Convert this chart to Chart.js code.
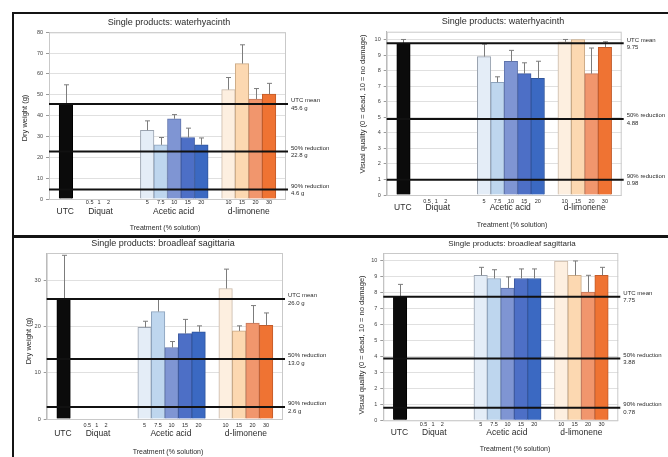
<!DOCTYPE html>
<html>
<head>
<meta charset="utf-8">
<script src="https://cdn.jsdelivr.net/npm/chart.js@4.4.1/dist/chart.umd.min.js"></script>
<style>
  html, body { margin: 0; padding: 0; background: #fff; }
  #sheet { position: relative; width: 668px; height: 457px; overflow: hidden; background: #fff; }
  #sheet canvas { position: absolute; left: 0; top: 0; }
  .rule { position: absolute; background: #141414; }
</style>
</head>
<body>
<div id="sheet">
  <canvas id="c1" width="668" height="457"></canvas>
  <canvas id="c2" width="668" height="457"></canvas>
  <canvas id="c3" width="668" height="457"></canvas>
  <canvas id="c4" width="668" height="457"></canvas>
  <div class="rule" style="left:12px;top:12px;width:656px;height:2px"></div>
  <div class="rule" style="left:12px;top:12px;width:2px;height:445px"></div>
  <div class="rule" style="left:12px;top:235px;width:656px;height:3px"></div>
</div>
<script>
// ---- treatments ----
const groupNames = ['UTC', 'Diquat', 'Acetic acid', 'd-limonene'];
const diquatRates = ['0.5', '1', '2'];
const aceticRates = ['5', '7.5', '10', '15', '20'];
const limoneneRates = ['10', '15', '20', '30'];
const refNames = ['UTC mean', '50% reduction', '90% reduction'];

// ---- waterhyacinth: dry weight (g); order UTC, acetic x5, d-limonene x4 ----
const whDry = [45.6, 33, 26, 38.5, 29.5, 26, 52.5, 65, 48, 50.3];
const whDryErr = [9.2, 4.5, 3.5, 2, 4.5, 3.3, 5.8, 9, 5, 5.2];
const whDryRef = [45.6, 22.8, 4.6];

// ---- waterhyacinth: visual quality (0-10) ----
const whVis = [9.75, 8.9, 7.25, 8.6, 7.8, 7.5, 9.85, 10, 7.8, 9.5];
const whVisErr = [0.25, 0.8, 0.35, 0.7, 0.7, 1.1, 0.15, 0, 1.65, 0.35];
const whVisRef = [9.75, 4.88, 0.98];

// ---- broadleaf sagittaria: dry weight (g) ----
const bsDry = [26.0, 19.9, 23.3, 15.5, 18.5, 18.9, 28.3, 19.1, 20.8, 20.3];
const bsDryErr = [9.5, 1.3, 2.7, 1.3, 3.1, 1.3, 4.2, 1.1, 3.8, 2.7];
const bsDryRef = [26.0, 13.0, 2.6];

// ---- broadleaf sagittaria: visual quality (0-10) ----
const bsVis = [7.75, 9.1, 8.9, 8.3, 8.9, 8.9, 10, 9.1, 8.05, 9.1];
const bsVisErr = [0.78, 0.5, 0.55, 0.7, 0.6, 0.6, 0, 0.9, 1.05, 0.5];
const bsVisRef = [7.75, 3.88, 0.78];

// ---- x layout in bar-width units ----
const SLOT_MAX = 17.5;
const barSlots = [1.25, 7.25, 8.25, 9.25, 10.25, 11.25, 13.25, 14.25, 15.25, 16.25];
const diquatSlots = [3.0, 3.7, 4.4];
const groupSlots = [1.2, 3.8, 9.2, 14.75];

const barFill = ['#0b0b0b',
  '#e4edf7', '#bed6ee', '#7f95d3', '#4d6fc6', '#3b69c2',
  '#fdefe0', '#fcd8b1', '#f1966d', '#ef7333'];
const barEdge = ['#000',
  '#9aa3b0', '#8da3bd', '#5f73ab', '#3d59a0', '#2f559c',
  '#c9b8a8', '#c9a884', '#c4765a', '#c25b2a'];

const FONT = '"Liberation Sans", Arial, sans-serif';
const INK = '#2b2b2b';

const panels = [
  { id: 'c1', area: { l: 49, r: 286, t: 32.3, b: 199 }, yMax: 80, yStep: 10,
    title: 'Single products: waterhyacinth', titleAt: [169, 23], titleSize: 9,
    yTitle: 'Dry weight (g)', yTitleAt: [25, 118],
    subY: 202.5, groupY: 212, xTitleAt: [165, 228],
    values: whDry, errors: whDryErr, refs: whDryRef, fmt: v => v.toFixed(1) + ' g' },
  { id: 'c2', area: { l: 386.7, r: 621.7, t: 31.7, b: 195 }, yMax: 10.5, yStep: 1,
    title: 'Single products: waterhyacinth', titleAt: [503, 21.5], titleSize: 9,
    yTitle: 'Visual quality (0 = dead, 10 = no damage)', yTitleAt: [363, 104],
    subY: 201.5, groupY: 207.5, xTitleAt: [512, 225],
    values: whVis, errors: whVisErr, refs: whVisRef, fmt: v => v.toFixed(2) },
  { id: 'c3', area: { l: 46.7, r: 283, t: 253, b: 419 }, yMax: 36, yStep: 10,
    title: 'Single products: broadleaf sagittaria', titleAt: [163, 243.5], titleSize: 9,
    yTitle: 'Dry weight (g)', yTitleAt: [29, 341],
    subY: 425.5, groupY: 434, xTitleAt: [168, 452],
    values: bsDry, errors: bsDryErr, refs: bsDryRef, fmt: v => v.toFixed(1) + ' g' },
  { id: 'c4', area: { l: 383.3, r: 618.3, t: 253, b: 420.3 }, yMax: 10.5, yStep: 1,
    title: 'Single products: broadleaf sagittaria', titleAt: [512, 244], titleSize: 8,
    yTitle: 'Visual quality (0 = dead, 10 = no damage)', yTitleAt: [361.7, 345],
    subY: 424.7, groupY: 433, xTitleAt: [515, 449],
    values: bsVis, errors: bsVisErr, refs: bsVisRef, fmt: v => v.toFixed(2) }
];

const AXW = 20;

function text(ctx, str, x, y, size, align) {
  ctx.font = size + 'px ' + FONT;
  ctx.fillStyle = INK;
  ctx.textAlign = align || 'center';
  ctx.textBaseline = 'middle';
  ctx.fillText(str, x, y);
}

function decorations(p) {
  return {
    id: 'decor_' + p.id,
    beforeDatasetsDraw(chart) {
      const { ctx, chartArea: a } = chart;
      ctx.save();
      ctx.strokeStyle = '#c9c9c9';
      ctx.lineWidth = 1;
      ctx.strokeRect(a.left + 0.5, a.top + 0.5, a.right - a.left - 1, a.bottom - a.top);
      ctx.restore();
    },
    afterDatasetsDraw(chart) {
      const { ctx, chartArea: a } = chart;
      const yS = chart.scales.y;
      const meta = chart.getDatasetMeta(0);
      ctx.save();
      // error bars
      ctx.strokeStyle = '#7c7c7c';
      ctx.lineWidth = 1;
      meta.data.forEach((bar, i) => {
        const e = p.errors[i];
        if (!e) return;
        const yTop = yS.getPixelForValue(p.values[i] + e);
        const x = Math.round(bar.x) + 0.5;
        ctx.beginPath();
        ctx.moveTo(x, bar.y);
        ctx.lineTo(x, yTop);
        ctx.moveTo(x - 2.5, yTop);
        ctx.lineTo(x + 2.5, yTop);
        ctx.stroke();
      });
      // reference lines and their labels
      p.refs.forEach((v, i) => {
        const y = yS.getPixelForValue(v);
        ctx.strokeStyle = '#111';
        ctx.lineWidth = 2;
        ctx.beginPath();
        ctx.moveTo(a.left, y);
        ctx.lineTo(a.right + 2, y);
        ctx.stroke();
        text(ctx, refNames[i], a.right + 5, y - 3.5, 6, 'left');
        text(ctx, p.fmt(v), a.right + 5, y + 4, 6, 'left');
      });
      ctx.restore();
    },
    afterDraw(chart) {
      const { ctx } = chart;
      const xS = chart.scales.x;
      ctx.save();
      text(ctx, p.title, p.titleAt[0], p.titleAt[1], p.titleSize);
      // rotated axis title
      ctx.save();
      ctx.translate(p.yTitleAt[0], p.yTitleAt[1]);
      ctx.rotate(-Math.PI / 2);
      text(ctx, p.yTitle, 0, 0, 7.5);
      ctx.restore();
      // rate labels
      diquatRates.forEach((r, i) => text(ctx, r, xS.getPixelForValue(diquatSlots[i]), p.subY, 5.5));
      aceticRates.forEach((r, i) => text(ctx, r, xS.getPixelForValue(barSlots[1 + i]), p.subY, 5.5));
      limoneneRates.forEach((r, i) => text(ctx, r, xS.getPixelForValue(barSlots[6 + i]), p.subY, 5.5));
      // group labels
      groupNames.forEach((g, i) => text(ctx, g, xS.getPixelForValue(groupSlots[i]), p.groupY, 8.5));
      text(ctx, 'Treatment (% solution)', p.xTitleAt[0], p.xTitleAt[1], 7);
      ctx.restore();
    }
  };
}

panels.forEach(p => {
  const canvas = document.getElementById(p.id);
  new Chart(canvas, {
    type: 'bar',
    data: {
      datasets: [{
        data: p.values.map((v, i) => ({ x: barSlots[i], y: v })),
        backgroundColor: barFill,
        borderColor: barEdge,
        borderWidth: 1,
        barPercentage: 1,
        categoryPercentage: 1
      }]
    },
    options: {
      responsive: false,
      animation: false,
      events: [],
      layout: {
        padding: { left: p.area.l - AXW, right: 668 - p.area.r, top: p.area.t, bottom: 457 - p.area.b }
      },
      plugins: { legend: { display: false }, tooltip: { enabled: false }, title: { display: false } },
      scales: {
        x: {
          type: 'linear', min: 0, max: SLOT_MAX, offset: false, display: false,
          afterBuildTicks: s => { s.ticks = []; }
        },
        y: {
          min: 0, max: p.yMax,
          ticks: { stepSize: p.yStep, includeBounds: false, padding: 3, color: '#444',
                   font: { size: 5.5, family: FONT } },
          grid: { color: '#e0e0e0', lineWidth: 1, tickLength: 3, tickColor: '#9a9a9a' },
          border: { color: '#b5b5b5' },
          afterFit: s => { s.width = AXW; }
        }
      }
    },
    plugins: [decorations(p)]
  });
});
</script>
</body>
</html>
